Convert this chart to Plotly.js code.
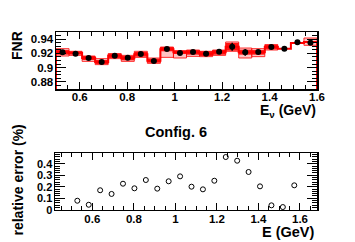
<!DOCTYPE html>
<html><head><meta charset="utf-8">
<script src="https://cdn.plot.ly/plotly-3.0.1.min.js"></script>
<style>html,body{margin:0;padding:0;background:#fff;} #chart{width:355px;height:242px;}</style>
</head><body><div id="chart"></div>
<script>
// Energy bin edges (GeV)
const binEdges = [0.5, 0.555, 0.61, 0.665, 0.72, 0.775, 0.83, 0.885, 0.94, 0.995, 1.05,
                  1.105, 1.16, 1.215, 1.27, 1.325, 1.38, 1.435, 1.49, 1.545, 1.6];
// FNR data points
const fnrData = [0.9215, 0.9196, 0.9135, 0.9079, 0.9168, 0.9140, 0.9191, 0.9093, 0.9261, 0.9205,
                 0.9219, 0.9196, 0.9224, 0.9294, 0.9215, 0.9219, 0.9289, 0.9266, 0.9355, 0.9350];
const fnrErr = [0.0012, 0.0012, 0.0012, 0.0012, 0.0012, 0.0012, 0.0012, 0.0012, 0.0012, 0.0012,
                0.0012, 0.0012, 0.0012, 0.0056, 0.0047, 0.0030, 0.0012, 0.0012, 0.0012, 0.0012];
// Prediction histogram
const fnrHist = [0.9215, 0.9205, 0.9135, 0.9079, 0.9166, 0.9133, 0.9187, 0.9098, 0.9259, 0.9215,
                 0.9215, 0.9196, 0.9215, 0.9292, 0.9217, 0.9215, 0.9290, 0.9266, 0.9345, 0.9360];
// Inner (dark) band
const innerLo = [0.9182, 0.9182, 0.9107, 0.9051, 0.9135, 0.9103, 0.9154, 0.9069, 0.9229, 0.9191,
                 0.9182, 0.9163, 0.9182, 0.9238, 0.9182, 0.9182, 0.9257, null, null, null];
const innerHi = [0.9247, 0.9229, 0.9163, 0.9107, 0.9196, 0.9163, 0.9219, 0.9126, 0.9289, 0.9238,
                 0.9247, 0.9229, 0.9247, 0.9346, 0.9252, 0.9247, 0.9322, null, null, null];
// Outer (light) band
const outerLo = [0.9163, 0.9172, 0.9088, 0.9042, 0.9126, 0.9088, 0.9144, 0.9060, 0.9144, 0.9135,
                 0.9158, 0.9154, 0.9172, 0.9229, 0.9135, 0.9154, 0.9247, null, null, 0.9313];
const outerHi = [0.9266, 0.9229, 0.9163, 0.9126, 0.9196, 0.9172, 0.9229, 0.9135, 0.9289, 0.9238,
                 0.9247, 0.9229, 0.9247, 0.9360, 0.9275, 0.9266, 0.9322, null, null, 0.9416];
// Relative error (%)
const relErr = [0.078, 0.043, 0.169, 0.137, 0.226, 0.186, 0.258, 0.183, 0.247, 0.290,
                0.200, 0.177, 0.252, 0.458, 0.426, 0.328, 0.203, 0.038, 0.023, 0.212];

const xTickVals = [0.6, 0.8, 1, 1.2, 1.4, 1.6];
const xTickText = ["0.6", "0.8", "1", "1.2", "1.4", "1.6"];
const fnrTickVals = [0.88, 0.9, 0.92, 0.94];
const fnrTickText = ["0.88", "0.9", "0.92", "0.94"];
const relTickVals = [0, 0.1, 0.2, 0.3, 0.4];
const relTickText = ["0", "0.1", "0.2", "0.3", "0.4"];

const W = 355, H = 242;
const FNR_RANGE = [0.87, 0.95];
const centers = binEdges.slice(0, -1).map((e, i) => (e + binEdges[i + 1]) / 2);
const widths = binEdges.slice(0, -1).map((e, i) => binEdges[i + 1] - e);

// step line
const stepX = [binEdges[0]], stepY = [FNR_RANGE[0]];
for (let i = 0; i < fnrHist.length; i++) { stepX.push(binEdges[i]); stepY.push(fnrHist[i]); }
stepX.push(binEdges[binEdges.length - 1]); stepY.push(fnrHist[fnrHist.length - 1]);
stepX.push(binEdges[binEdges.length - 1]); stepY.push(FNR_RANGE[0]);

const font = {family: 'Liberation Sans, Arial, sans-serif', color: '#000', weight: 'bold'};
const tf = Object.assign({}, font, {size: 11.5});
const tfSmall = Object.assign({}, font, {size: 11});

const traces = [
  {type: 'bar', x: centers, base: outerLo, y: outerHi.map((h, i) => h == null ? null : h - outerLo[i]),
   width: widths, xaxis: 'x', yaxis: 'y',
   marker: {color: 'rgba(255,80,80,0.35)', line: {color: 'rgba(255,0,0,0.8)', width: 1}}, hoverinfo: 'skip'},
  {type: 'bar', x: centers, base: innerLo, y: innerHi.map((h, i) => h == null ? null : h - innerLo[i]),
   width: widths, xaxis: 'x', yaxis: 'y',
   marker: {color: 'rgba(255,0,0,0.9)', line: {width: 0}}, hoverinfo: 'skip'},
  {type: 'scatter', mode: 'lines', x: stepX, y: stepY, line: {shape: 'hv', color: '#ff0000', width: 2},
   xaxis: 'x', yaxis: 'y'},
  {type: 'scatter', mode: 'markers', x: centers, y: fnrData,
   error_y: {type: 'data', array: fnrErr, visible: true, color: '#000', thickness: 1.5, width: 0},
   marker: {color: '#000', size: 6}, xaxis: 'x', yaxis: 'y'},
  {type: 'scatter', mode: 'markers', x: centers, y: relErr,
   marker: {symbol: 'circle-open', color: '#000', size: 5, line: {width: 1, color: '#000'}},
   xaxis: 'x2', yaxis: 'y2', cliponaxis: false}
];

const axBase = {showgrid: false, zeroline: false, showline: true, linecolor: '#000', linewidth: 1.5,
  mirror: 'allticks', ticks: 'inside', tickcolor: '#000', tickwidth: 1, tickmode: 'array', tickfont: tf};

const layout = {
  width: W, height: H, margin: {l: 0, r: 0, t: 0, b: 0}, showlegend: false,
  paper_bgcolor: '#fff', plot_bgcolor: '#fff', barmode: 'overlay',
  xaxis: Object.assign({}, axBase, {domain: [56 / W, 317 / W], range: [0.5, 1.6], anchor: 'y',
    tickvals: xTickVals, ticktext: xTickText, ticklen: 7, ticklabelstandoff: -3,
    minor: {dtick: 0.05, ticklen: 4, ticks: 'inside', tickcolor: '#000', showgrid: false}}),
  yaxis: Object.assign({}, axBase, {domain: [1 - 89 / H, 1 - 32 / H], range: FNR_RANGE, anchor: 'x',
    tickvals: fnrTickVals, ticktext: fnrTickText, ticklen: 10, ticklabelstandoff: -1,
    minor: {dtick: 0.005, ticklen: 5, ticks: 'inside', tickcolor: '#000', showgrid: false}}),
  xaxis2: Object.assign({}, axBase, {domain: [55 / W, 317 / W], range: [0.42, 1.682], anchor: 'y2',
    tickvals: xTickVals, ticktext: xTickText, ticklen: 7, ticklabelstandoff: -2,
    minor: {dtick: 0.05, ticklen: 4, ticks: 'inside', tickcolor: '#000', showgrid: false}}),
  yaxis2: Object.assign({}, axBase, {domain: [1 - 209.7 / H, 1 - 153 / H], range: [0, 0.493], anchor: 'x2',
    tickvals: relTickVals, ticktext: relTickText, ticklen: 10, ticklabelstandoff: -1, tickfont: tfSmall,
    minor: {dtick: 0.02, ticklen: 5, ticks: 'inside', tickcolor: '#000', showgrid: false}}),
  annotations: [
    {text: 'FNR', xref: 'paper', yref: 'paper', x: 17 / W, y: 1 - 46 / H, textangle: -90,
     xanchor: 'center', yanchor: 'middle', showarrow: false, font: Object.assign({}, font, {size: 14})},
    {text: 'E<sub>ν</sub> (GeV)', xref: 'paper', yref: 'paper', x: 318 / W, y: 1 - 111 / H,
     xanchor: 'right', yanchor: 'middle', showarrow: false, font: Object.assign({}, font, {size: 14})},
    {text: 'Config. 6', xref: 'paper', yref: 'paper', x: 176 / W, y: 1 - 132 / H,
     xanchor: 'center', yanchor: 'middle', showarrow: false, font: Object.assign({}, font, {size: 14.5})},
    {text: 'relative error (%)', xref: 'paper', yref: 'paper', x: 17.5 / W, y: 1 - 180 / H, textangle: -90,
     xanchor: 'center', yanchor: 'middle', showarrow: false, font: Object.assign({}, font, {size: 14})},
    {text: 'E (GeV)', xref: 'paper', yref: 'paper', x: 317 / W, y: 1 - 232 / H,
     xanchor: 'right', yanchor: 'middle', showarrow: false, font: Object.assign({}, font, {size: 14.5})}
  ]
};

Plotly.newPlot('chart', traces, layout, {staticPlot: true, displayModeBar: false});
</script></body></html>
